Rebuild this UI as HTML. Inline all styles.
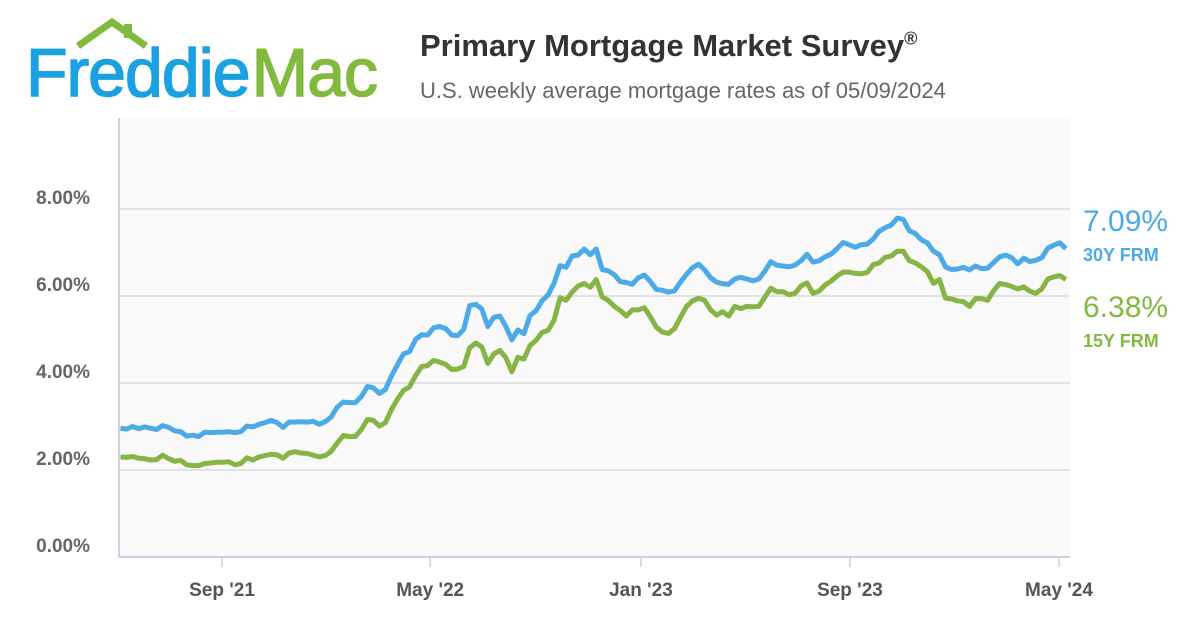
<!DOCTYPE html>
<html><head><meta charset="utf-8"><style>
body{margin:0;width:1200px;height:630px;background:#fff;font-family:"Liberation Sans",sans-serif;overflow:hidden;position:relative}
.t{position:absolute;white-space:nowrap}
</style></head><body>
<div class="t" style="left:26px;top:34px;font-size:68px;letter-spacing:-1px;-webkit-text-stroke:1.5px currentColor;">
<span style="color:#1ba1e2">Freddie</span><span style="color:#82b93f;margin-left:2px">Mac</span></div>
<svg style="position:absolute;left:72px;top:16px" width="80" height="34"><polyline points="6,30 40,6 74,30" fill="none" stroke="#82b93f" stroke-width="7"/><rect x="52" y="8" width="8" height="14" fill="#82b93f"/></svg>
<div class="t" style="left:420px;top:28px;font-size:31px;font-weight:bold;color:#333">Primary Mortgage Market Survey<sup style="font-size:18px">®</sup></div>
<div class="t" style="left:420px;top:78px;font-size:22px;color:#666">U.S. weekly average mortgage rates as of 05/09/2024</div>
<div class="t" style="left:1083px;top:205px;font-size:30px;color:#4daae8">7.09%</div>
<div class="t" style="left:1083px;top:245px;font-size:18px;font-weight:bold;color:#4daae8">30Y FRM</div>
<div class="t" style="left:1083px;top:291px;font-size:30px;color:#82b93f">6.38%</div>
<div class="t" style="left:1083px;top:331px;font-size:18px;font-weight:bold;color:#82b93f">15Y FRM</div>
<svg id="chart" style="position:absolute;left:0;top:0" width="1200" height="630"></svg>
<script>
const yTicks=[0,2,4,6,8];
const xTickLabels=["Sep '21","May '22","Jan '23","Sep '23","May '24"];
const xTickDates=["2021-09-01","2022-05-01","2023-01-01","2023-09-01","2024-05-01"];
const lastDate="2024-05-09";
const rate30=[2.96,2.94,3.00,2.95,2.99,2.96,2.93,3.02,2.98,2.90,2.88,2.78,2.80,2.77,2.87,2.86,2.87,2.87,2.88,2.86,2.88,3.01,2.99,3.05,3.09,3.14,3.09,2.98,3.10,3.10,3.11,3.10,3.12,3.05,3.11,
3.22,3.45,3.56,3.55,3.55,3.69,3.92,3.89,3.76,3.85,4.16,4.42,4.67,4.72,5.00,5.11,5.10,5.27,5.30,5.25,5.10,5.09,5.23,5.78,5.81,5.70,5.30,5.51,5.54,5.30,4.99,5.22,5.13,5.55,5.66,5.89,6.02,6.29,6.70,6.66,6.92,6.94,7.08,6.95,7.08,6.61,6.58,6.49,6.33,6.31,6.27,6.42,
6.48,6.33,6.15,6.13,6.09,6.12,6.32,6.50,6.65,6.73,6.60,6.42,6.32,6.28,6.27,6.39,6.43,6.39,6.35,6.39,6.57,6.79,6.71,6.69,6.67,6.71,6.81,6.96,6.78,6.81,6.90,6.96,7.09,7.23,7.18,7.12,7.18,7.19,7.31,7.49,7.57,7.63,7.79,7.76,7.50,7.44,7.29,7.22,7.03,6.95,6.67,6.61,
6.62,6.66,6.60,6.69,6.63,6.64,6.77,6.90,6.94,6.88,6.74,6.87,6.79,6.82,6.88,7.10,7.17,7.22,7.09];
const rate15=[2.30,2.29,2.31,2.27,2.26,2.23,2.24,2.34,2.26,2.20,2.22,2.12,2.10,2.10,2.15,2.16,2.18,2.18,2.19,2.12,2.15,2.28,2.23,2.30,2.33,2.36,2.35,2.27,2.39,2.42,2.39,2.38,2.34,2.30,2.33,
2.43,2.62,2.79,2.77,2.77,2.93,3.16,3.14,3.01,3.09,3.39,3.63,3.83,3.91,4.17,4.38,4.40,4.52,4.48,4.43,4.31,4.32,4.38,4.81,4.92,4.83,4.45,4.67,4.75,4.58,4.26,4.59,4.55,4.86,4.98,5.16,5.21,5.44,5.96,5.90,6.09,6.23,6.29,6.20,6.38,5.98,5.90,5.76,5.67,5.54,5.68,5.68,
5.73,5.52,5.28,5.17,5.14,5.25,5.51,5.76,5.89,5.95,5.90,5.68,5.56,5.64,5.54,5.76,5.71,5.76,5.75,5.76,5.97,6.18,6.10,6.10,6.03,6.06,6.23,6.30,6.06,6.11,6.25,6.34,6.46,6.55,6.55,6.52,6.51,6.54,6.72,6.76,6.89,6.92,7.03,7.03,6.81,6.76,6.67,6.56,6.29,6.38,5.95,5.93,
5.89,5.87,5.76,5.94,5.94,5.90,6.12,6.29,6.26,6.22,6.16,6.21,6.11,6.06,6.16,6.39,6.44,6.47,6.38];
const NS="http://www.w3.org/2000/svg";
const svg=document.getElementById('chart');
const L=119,R=1070,T=118,B=557;
const d0=Date.parse("2021-09-01"),x0=222,pxPerDay=837/973;
function xScale(t){return x0+(t-d0)/86400000*pxPerDay;}
function yScale(v){return B-v*43.5;}
function mk(tag,attrs){const e=document.createElementNS(NS,tag);for(const k in attrs)e.setAttribute(k,attrs[k]);svg.appendChild(e);return e;}
const bg=mk('rect',{x:L,y:T,width:R-L,height:B-T,fill:'#f9f9f9'});


yTicks.forEach(v=>{
 const y=yScale(v);
 if(v>0){const g=mk('line',{x1:L,x2:R,y1:y,y2:y,stroke:'#e2e2e2','stroke-width':2});
 
 }
 const t=mk('text',{x:90,y:y-5,'text-anchor':'end','font-size':19,'font-weight':'bold',fill:'#666','font-family':'Liberation Sans, sans-serif'});
 t.textContent=v.toFixed(2)+'%';
 
 
});
const ax=mk('line',{x1:L,x2:L,y1:T,y2:B,stroke:'#c8d2e0','stroke-width':2});


const bx=mk('line',{x1:L,x2:R,y1:B,y2:B,stroke:'#c8d2e0','stroke-width':2});


xTickDates.forEach((d,i)=>{
 const x=xScale(Date.parse(d));
 const tk=mk('line',{x1:x,x2:x,y1:B,y2:B+10,stroke:'#c8d2e0','stroke-width':1.5});
 
 
 const t=mk('text',{x:x,y:596,'text-anchor':'middle','font-size':19,'font-weight':'bold',fill:'#555','font-family':'Liberation Sans, sans-serif'});
 t.textContent=xTickLabels[i];
 
 
});
function drawSeries(arr,color,name){
 const end=Date.parse(lastDate),n=arr.length;
 const pts=arr.map((v,i)=>xScale(end-(n-1-i)*7*86400000).toFixed(1)+','+yScale(v).toFixed(1)).join(' ');
 const p=mk('polyline',{points:pts,fill:'none',stroke:color,'stroke-width':5,'stroke-linejoin':'round'});
 
 
}
drawSeries(rate15,'#86b545','line-15y-frm');
drawSeries(rate30,'#4daae8','line-30y-frm');
</script>
</body></html>
